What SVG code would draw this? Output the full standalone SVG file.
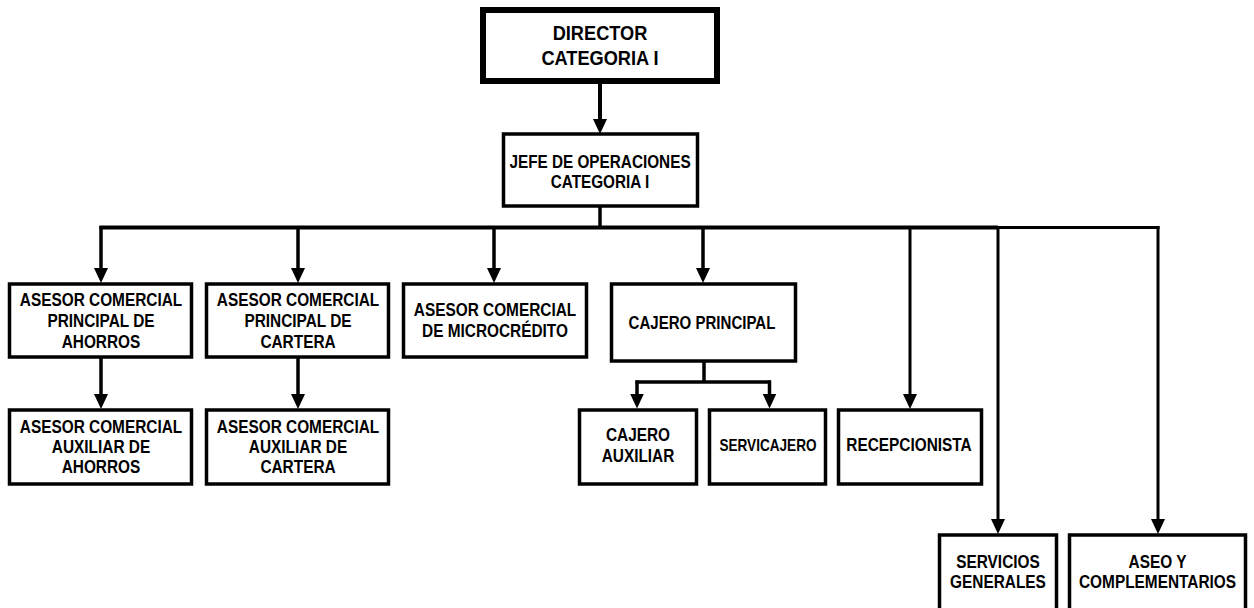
<svg xmlns="http://www.w3.org/2000/svg" width="1254" height="608" viewBox="0 0 1254 608">
  <defs>
    <marker id="arr" markerUnits="userSpaceOnUse" markerWidth="16" markerHeight="16" refX="6" refY="7" orient="auto">
      <path d="M0,0 L15,7 L0,14 z" fill="#000"/>
    </marker>
    <style>
      .box { fill: #fff; stroke: #000; stroke-width: 3.5; }
      .top { fill: #fff; stroke: #000; stroke-width: 6; }
      .lbl { font-family: "Liberation Sans", Arial, sans-serif; font-weight: bold; font-size: 17.5px; text-anchor: middle; fill: #000; }
      .big { font-size: 20px; }
      .sm { font-size: 16px; }
      .wire { fill: none; stroke: #000; stroke-width: 3.5; }
      .thin { stroke-width: 3; }
      .arrow { marker-end: url(#arr); }
    </style>
  </defs>
  <rect width="1254" height="608" fill="#fff"/>

  <!-- connectors -->
  <g id="connectors">
    <line class="wire arrow" x1="600" y1="84" x2="600" y2="125" style="stroke-width:4"/>
    <line class="wire" x1="600" y1="207" x2="600" y2="227.5"/>
    <line class="wire" x1="99.5" y1="227.5" x2="998" y2="227.5" style="stroke-width:4"/>
    <line class="wire thin" x1="998" y1="227.5" x2="1159.5" y2="227.5"/>
    <line class="wire arrow" x1="101" y1="226" x2="101" y2="274"/>
    <line class="wire arrow" x1="298" y1="226" x2="298" y2="274"/>
    <line class="wire arrow" x1="494" y1="226" x2="494" y2="274"/>
    <line class="wire arrow" x1="703" y1="226" x2="703" y2="274"/>
    <line class="wire thin arrow" x1="910" y1="226" x2="910" y2="400"/>
    <line class="wire thin arrow" x1="998" y1="226" x2="998" y2="525"/>
    <line class="wire thin arrow" x1="1158" y1="226" x2="1158" y2="525"/>
    <line class="wire arrow" x1="101" y1="358" x2="101" y2="400"/>
    <line class="wire arrow" x1="298" y1="358" x2="298" y2="400"/>
    <line class="wire" x1="704" y1="362" x2="704" y2="382"/>
    <line class="wire" x1="635.5" y1="382" x2="771" y2="382"/>
    <line class="wire arrow" x1="637" y1="380.5" x2="637" y2="399.5"/>
    <line class="wire arrow" x1="769.5" y1="380.5" x2="769.5" y2="399.5"/>
  </g>

  <g id="director">
    <rect class="top" x="483" y="10" width="234" height="71"/>
    <text class="lbl big" transform="translate(600 0) scale(0.91 1)"><tspan x="0" y="40">DIRECTOR</tspan><tspan x="0" y="65">CATEGORIA I</tspan></text>
  </g>

  <g id="jefe-operaciones">
    <rect class="box" x="503.5" y="134" width="194" height="72"/>
    <text class="lbl" transform="translate(600 0) scale(0.875 1)"><tspan x="0" y="168">JEFE DE OPERACIONES</tspan><tspan x="0" y="188">CATEGORIA I</tspan></text>
  </g>

  <g id="asesor-principal-ahorros">
    <rect class="box" x="9.5" y="284" width="182" height="73"/>
    <text class="lbl" transform="translate(101 0) scale(0.88 1)"><tspan x="0" y="306">ASESOR COMERCIAL</tspan><tspan x="0" y="327">PRINCIPAL DE</tspan><tspan x="0" y="348">AHORROS</tspan></text>
  </g>

  <g id="asesor-principal-cartera">
    <rect class="box" x="206.5" y="284" width="182" height="73"/>
    <text class="lbl" transform="translate(298 0) scale(0.88 1)"><tspan x="0" y="306">ASESOR COMERCIAL</tspan><tspan x="0" y="327">PRINCIPAL DE</tspan><tspan x="0" y="348">CARTERA</tspan></text>
  </g>

  <g id="asesor-microcredito">
    <rect class="box" x="403.5" y="284" width="183" height="73"/>
    <text class="lbl" transform="translate(495 0) scale(0.88 1)"><tspan x="0" y="316">ASESOR COMERCIAL</tspan><tspan x="0" y="337">DE MICROCRÉDITO</tspan></text>
  </g>

  <g id="cajero-principal">
    <rect class="box" x="611.5" y="284" width="184" height="77"/>
    <text class="lbl" transform="translate(702 0) scale(0.86 1)"><tspan x="0" y="329">CAJERO PRINCIPAL</tspan></text>
  </g>

  <g id="asesor-auxiliar-ahorros">
    <rect class="box" x="9.5" y="410" width="182" height="74"/>
    <text class="lbl" transform="translate(101 0) scale(0.88 1)"><tspan x="0" y="433">ASESOR COMERCIAL</tspan><tspan x="0" y="453.5">AUXILIAR DE</tspan><tspan x="0" y="473.5">AHORROS</tspan></text>
  </g>

  <g id="asesor-auxiliar-cartera">
    <rect class="box" x="206.5" y="410" width="182" height="74"/>
    <text class="lbl" transform="translate(298 0) scale(0.88 1)"><tspan x="0" y="433">ASESOR COMERCIAL</tspan><tspan x="0" y="453.5">AUXILIAR DE</tspan><tspan x="0" y="473.5">CARTERA</tspan></text>
  </g>

  <g id="cajero-auxiliar">
    <rect class="box" x="579.5" y="410" width="117" height="74"/>
    <text class="lbl" transform="translate(638 0) scale(0.88 1)"><tspan x="0" y="441.5">CAJERO</tspan><tspan x="0" y="462.5">AUXILIAR</tspan></text>
  </g>

  <g id="servicajero">
    <rect class="box" x="709.5" y="410" width="116" height="74"/>
    <text class="lbl sm" transform="translate(768 0) scale(0.85 1)"><tspan x="0" y="451.5">SERVICAJERO</tspan></text>
  </g>

  <g id="recepcionista">
    <rect class="box" x="838.5" y="410" width="143" height="74"/>
    <text class="lbl" transform="translate(909 0) scale(0.88 1)"><tspan x="0" y="451.5">RECEPCIONISTA</tspan></text>
  </g>

  <g id="servicios-generales">
    <rect class="box" x="939.5" y="535" width="117" height="100"/>
    <text class="lbl" transform="translate(998 0) scale(0.88 1)"><tspan x="0" y="568">SERVICIOS</tspan><tspan x="0" y="588.5">GENERALES</tspan></text>
  </g>

  <g id="aseo-complementarios">
    <rect class="box" x="1069.5" y="535" width="176" height="100"/>
    <text class="lbl" transform="translate(1157.5 0) scale(0.88 1)"><tspan x="0" y="568">ASEO Y</tspan><tspan x="0" y="588.5">COMPLEMENTARIOS</tspan></text>
  </g>
</svg>
